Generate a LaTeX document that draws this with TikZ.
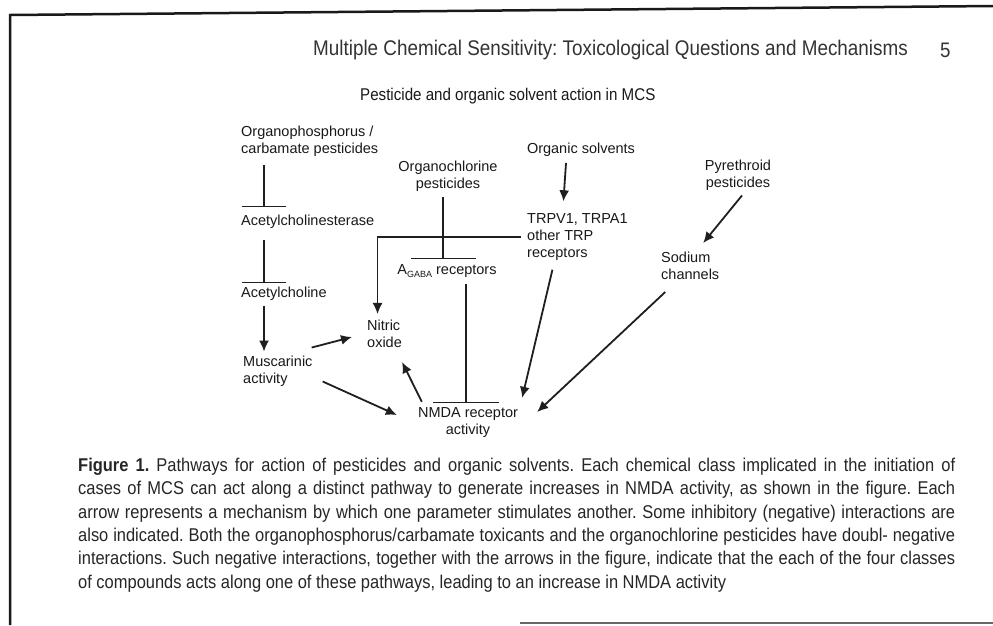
\documentclass[tikz,border=0pt]{standalone}
\usepackage{fontspec}
\setmainfont{Liberation Sans}
\newfontfamily\condfont[FakeStretch=0.89]{Liberation Sans}
\usetikzlibrary{arrows.meta}
\begin{document}
\frenchspacing
\begin{tikzpicture}[x=1pt,y=-1pt,
  lab/.style={font=\fontsize{14.5}{17}\selectfont, inner sep=0pt, align=left, text=black!90},
  arr/.style={line width=1.8pt, black!88, -{Latex[length=11pt,width=10pt]}},
  inh/.style={line width=1.5pt, black!88, -{Bar[width=#1, line width=1.5pt]}},
  inh/.default=44pt]
\useasboundingbox (0,0) rectangle (993,625);
\fill[white] (0,0) rectangle (993,625);
% frame
\draw[line width=2.5pt, black!90] (993,6) -- (10,15) -- (10,625);
\draw[line width=2pt, black!60] (520,623) -- (993,623);
% header
\node[anchor=west, inner sep=0pt, font=\condfont\fontsize{21.2}{24}\selectfont, text=black!80] (title) at (313,50) {Multiple Chemical Sensitivity: Toxicological Questions and Mechanisms};
\node[anchor=west, inner sep=0pt, font=\condfont\fontsize{21}{24}\selectfont, text=black!80] (pg) at (940,50) {5};
\node[anchor=west, inner sep=0pt, font=\condfont\fontsize{17}{20}\selectfont, text=black!90] (head) at (360,96) {Pesticide and organic solvent action in MCS};
% diagram nodes
\node[lab, anchor=west] (op) at (241,141) {Organophosphorus /\\carbamate pesticides};
\node[lab, anchor=west] (ache) at (241,222) {Acetylcholinesterase};
\node[lab, anchor=west] (ach) at (241,294) {Acetylcholine};
\node[lab, anchor=west] (musc) at (243,371) {Muscarinic\\activity};
\node[lab, anchor=west] (no) at (367,334) {Nitric\\oxide};
\node[lab, align=center] (nmda) at (468,423) {NMDA receptor\\activity};
\node[lab, align=center] (oc) at (448,176) {Organochlorine\\pesticides};
\node[lab] (gaba) at (447,271) {A\raisebox{-0.45ex}{\fontsize{9}{9}\selectfont GABA} receptors};
\node[lab] (os) at (581,150) {Organic solvents};
\node[lab, anchor=west] (trp) at (527,237) {TRPV1, TRPA1\\other TRP\\receptors};
\node[lab, align=center] (pyr) at (738,175) {Pyrethroid\\pesticides};
\node[lab, anchor=west] (na) at (661,266) {Sodium\\channels};
% connectors
\draw[inh] ([xshift=23pt,yshift=-9pt]op.south west) -- ([xshift=23pt,yshift=8pt]ache.north west);
\draw[inh] ([xshift=23pt,yshift=-11pt]ache.south west) -- ([xshift=23pt,yshift=4pt]ach.north west);
\draw[arr] ([xshift=23pt,yshift=-5pt]ach.south west) -- ([xshift=21pt,yshift=4pt]musc.north west);
\draw[arr] ([xshift=-1pt,yshift=8pt]musc.north east) -- ([xshift=-15pt,yshift=-3pt]no.west);
\draw[arr] ([xshift=10pt,yshift=-10.5pt]musc.east) -- ([xshift=-21pt,yshift=8pt]nmda.west);
\draw[arr] ([xshift=4pt,yshift=6pt]nmda.north west) -- ([yshift=-14pt]no.south east);
\draw[arr, line width=1.3pt] ([xshift=-6pt]trp.west) -| ([xshift=-7pt,yshift=6pt]no.north);
\draw[inh=65pt] ([xshift=-5pt,yshift=-6pt]oc.south) -- ([xshift=-4pt,yshift=5pt]gaba.north);
\draw[inh=66pt] ([xshift=19pt,yshift=-6pt]gaba.south) -- ([xshift=-2pt,yshift=4.7pt]nmda.north);
\draw[arr] ([xshift=-15pt,yshift=-6pt]os.south) -- ([xshift=-14pt,yshift=12pt]trp.north);
\draw[arr] ([xshift=-25pt,yshift=-9pt]trp.south) -- ([xshift=4pt,yshift=10pt]nmda.north east);
\draw[arr] ([xshift=4pt,yshift=-5pt]pyr.south) -- ([xshift=13pt,yshift=9pt]na.north);
\draw[arr] ([xshift=-25pt,yshift=-12pt]na.south) -- ([xshift=19pt,yshift=11pt]nmda.east);
% caption
\node[anchor=north west, inner sep=0pt, align=left, text=black!85,
  font=\condfont\fontsize{18.5}{23.3}\selectfont] (cap) at (78,458) {%
\makebox[877pt][s]{\textbf{Figure 1.} Pathways for action of pesticides and organic solvents. Each chemical class implicated in the initiation of}\\
\makebox[877pt][s]{cases of MCS can act along a distinct pathway to generate increases in NMDA activity, as shown in the figure. Each}\\
\makebox[877pt][s]{arrow represents a mechanism by which one parameter stimulates another. Some inhibitory (negative) interactions are}\\
\makebox[877pt][s]{also indicated. Both the organophosphorus/carbamate toxicants and the organochlorine pesticides have doubl- negative}\\
\makebox[877pt][s]{interactions. Such negative interactions, together with the arrows in the figure, indicate that the each of the four classes}\\
of compounds acts along one of these pathways, leading to an increase in NMDA activity};
\end{tikzpicture}
\end{document}
